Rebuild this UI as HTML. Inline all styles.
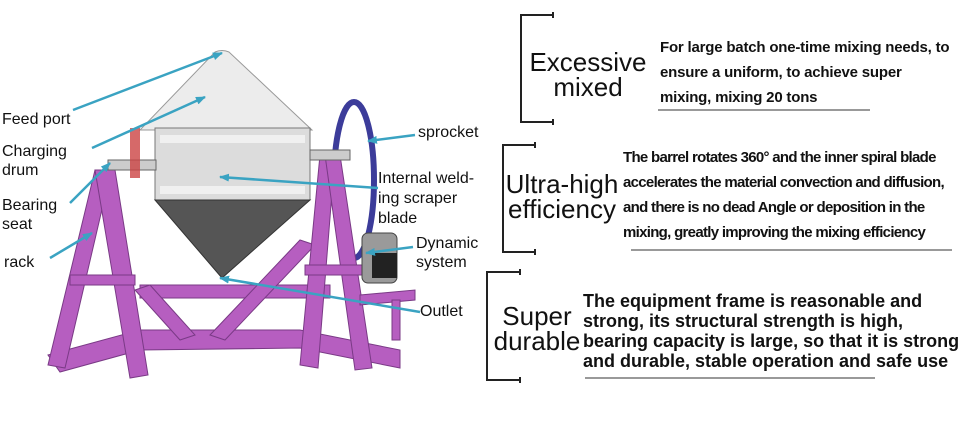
<!DOCTYPE html>
<html><head><style>
body{margin:0;width:974px;height:425px;background:#fff;position:relative;overflow:hidden;font-family:"Liberation Sans",sans-serif}
.l{position:absolute;font-size:16px;line-height:19px;color:#111}
.h{position:absolute;font-size:26px;line-height:25px;text-align:center;color:#111}
.p{position:absolute;font-weight:bold;color:#111;white-space:nowrap}
</style></head><body>
<svg width="974" height="425" style="position:absolute;left:0;top:0">
<defs><marker id="a" markerWidth="10" markerHeight="8" refX="9" refY="4" orient="auto" markerUnits="userSpaceOnUse"><path d="M0,0L10,4L0,8z" fill="#3aa3c2"/></marker></defs>
<ellipse cx="354" cy="180" rx="20" ry="78" fill="none" stroke="#3c3c9a" stroke-width="6"/>
<g fill="#b65ec0" stroke="#7a3a86" stroke-width="1">
<polygon points="48,355 140,330 300,330 400,350 400,368 300,348 140,350 60,372"/>
<polygon points="140,285 330,285 330,298 140,298"/>
<polygon points="135,290 180,340 195,335 150,285"/>
<polygon points="210,335 300,240 315,245 225,340"/>
<polygon points="48,365 95,170 110,175 65,368"/>
<polygon points="95,170 115,170 148,375 130,378"/>
<polygon points="300,365 320,155 335,155 318,368"/>
<polygon points="325,155 340,155 372,368 355,370"/>
<polygon points="70,275 135,275 135,285 70,285"/>
<polygon points="305,265 365,265 365,275 305,275"/>
<polygon points="360,295 415,290 415,300 360,305"/>
<rect x="392" y="300" width="8" height="40"/>
</g>
<rect x="362" y="233" width="35" height="50" rx="6" fill="#9a9a9a" stroke="#444"/>
<rect x="372" y="253" width="25" height="25" fill="#222"/>
<path d="M215,52 Q222,49 229,52 L312,130 L140,130 Z" fill="#ececec" stroke="#999"/>
<rect x="155" y="128" width="155" height="72" fill="#dcdcdc" stroke="#777"/>
<rect x="160" y="135" width="145" height="8" fill="#f0f0f0"/>
<rect x="160" y="186" width="145" height="8" fill="#f0f0f0"/>
<polygon points="155,200 310,200 222,278" fill="#555" stroke="#333"/>
<rect x="108" y="160" width="48" height="10" fill="#ccc" stroke="#666"/>
<rect x="310" y="150" width="40" height="10" fill="#ccc" stroke="#666"/>
<rect x="130" y="128" width="10" height="50" fill="#c44" opacity=".8"/>
<g stroke="#3aa3c2" stroke-width="2.5" marker-end="url(#a)">
<line x1="73" y1="110" x2="222" y2="53"/>
<line x1="92" y1="148" x2="205" y2="97"/>
<line x1="70" y1="203" x2="110" y2="163"/>
<line x1="50" y1="258" x2="92" y2="233"/>
<line x1="415" y1="135" x2="368" y2="141"/>
<line x1="378" y1="188" x2="220" y2="177"/>
<line x1="413" y1="247" x2="366" y2="253"/>
<line x1="420" y1="312" x2="220" y2="278"/>
</g>
<g fill="none" stroke="#222" stroke-width="2">
<polyline points="553,15 521,15 521,122 553,122"/>
<polyline points="535,145 503,145 503,252 535,252"/>
<polyline points="520,272 487,272 487,380 520,380"/>
<path d="M553,12v6M553,119v6M535,142v6M535,249v6M520,269v6M520,377v6"/>
</g>
<g stroke="#333" stroke-width="1"><line x1="658" y1="110" x2="870" y2="110"/><line x1="631" y1="250" x2="952" y2="250"/><line x1="585" y1="378" x2="875" y2="378"/></g>
</svg>
<div class="l" style="left:2px;top:110px">Feed port</div>
<div class="l" style="left:2px;top:142px">Charging<br>drum</div>
<div class="l" style="left:2px;top:196px">Bearing<br>seat</div>
<div class="l" style="left:4px;top:253px">rack</div>
<div class="l" style="left:418px;top:123px">sprocket</div>
<div class="l" style="left:378px;top:169px;line-height:20px">Internal weld-<br>ing scraper<br>blade</div>
<div class="l" style="left:416px;top:234px">Dynamic<br>system</div>
<div class="l" style="left:420px;top:302px">Outlet</div>
<div class="h" style="left:523px;top:50px;width:130px">Excessive<br>mixed</div>
<div class="h" style="left:505px;top:172px;width:114px">Ultra-high<br>efficiency</div>
<div class="h" style="left:489px;top:304px;width:96px">Super<br>durable</div>
<div class="p" style="left:660px;top:35px;font-size:15px;line-height:25px;letter-spacing:-0.2px">For large batch one-time mixing needs, to<br>ensure a uniform, to achieve super<br>mixing, mixing 20 tons</div>
<div class="p" style="left:623px;top:145px;font-size:15px;line-height:25px;letter-spacing:-0.7px">The barrel rotates 360° and the inner spiral blade<br>accelerates the material convection and diffusion,<br>and there is no dead Angle or deposition in the<br>mixing, greatly improving the mixing efficiency</div>
<div class="p" style="left:583px;top:291px;font-size:18px;line-height:20px">The equipment frame is reasonable and<br>strong, its structural strength is high,<br>bearing capacity is large, so that it is strong<br>and durable, stable operation and safe use</div>
</body></html>
